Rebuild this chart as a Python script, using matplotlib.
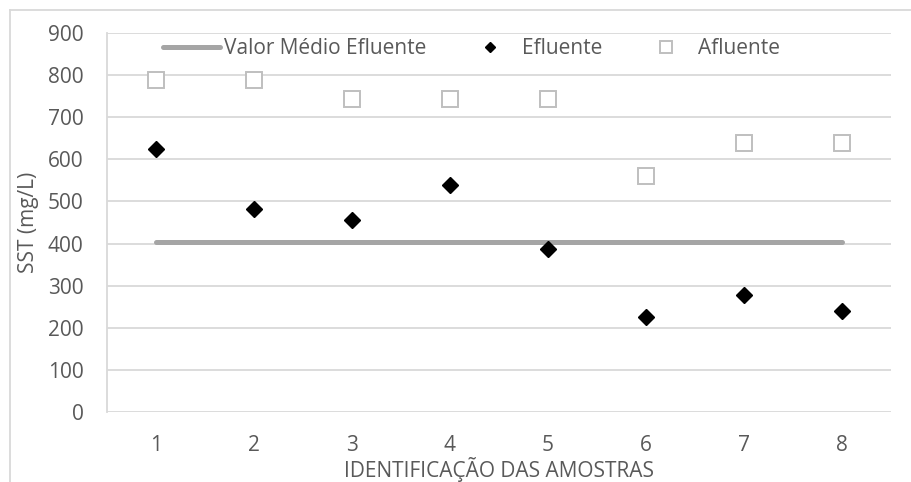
#!/usr/bin/env python3
"""
SST nas amostras: afluente, efluente e valor medio do efluente
"""

import matplotlib.pyplot as plt
import numpy as np

amostras = [1, 2, 3, 4, 5, 6, 7, 8]
afluente = [788, 788, 743, 743, 743, 560, 638, 638]
efluente = [624, 483, 455, 538, 386, 226, 279, 240]
media_efluente = np.mean(efluente)

cinza_texto = '#595959'
cinza_grade = '#d9d9d9'
fs = 15

plt.rcParams['font.family'] = ['Open Sans', 'DejaVu Sans']
plt.rcParams['font.size'] = fs

fig = plt.figure(figsize=(9.12, 4.82), dpi=100)
ax = fig.add_axes([107 / 912, 70 / 482, 784 / 912, 379 / 482])

# borda da area do grafico (so a esquerda e o topo aparecem)
bx, by = 10 / 912, 1 - 9.5 / 482
fig.add_artist(plt.Line2D([bx, bx], [0, by], color=cinza_grade, lw=1.3))
fig.add_artist(plt.Line2D([bx, 1], [by, by], color=cinza_grade, lw=1.3))

ax.plot([amostras[0], amostras[-1]], [media_efluente, media_efluente],
        color='#a5a5a5', lw=3.6, solid_capstyle='round', label='Valor Médio Efluente', zorder=3)
ax.plot(amostras, efluente, linestyle='none', marker='D', markersize=7.8,
        color='black', label='Efluente', zorder=4)
ax.plot(amostras, afluente, linestyle='none', marker='s', markersize=12,
        markerfacecolor='white', markeredgecolor='#bfbfbf', markeredgewidth=1.4,
        label='Afluente', zorder=4)

ax.set_xlim(0.5, 8.5)
ax.set_ylim(0, 900)
ax.set_yticks(np.arange(0, 901, 100))
ax.set_xticks(amostras)
ax.grid(axis='y', color=cinza_grade, lw=1.3)
ax.set_axisbelow(True)

for side in ['top', 'right', 'bottom']:
    ax.spines[side].set_visible(False)
ax.spines['left'].set_color(cinza_grade)
ax.spines['left'].set_linewidth(1.3)
ax.tick_params(length=0, colors=cinza_texto, labelsize=fs)
ax.tick_params(axis='y', pad=17)
ax.tick_params(axis='x', pad=16.5)

ax.set_ylabel('SST (mg/L)', color=cinza_texto, fontsize=fs, labelpad=6)
ax.set_xlabel('IDENTIFICAÇÃO DAS AMOSTRAS', color=cinza_texto, fontsize=fs, labelpad=0.5)

leg = ax.legend(loc='center left', bbox_to_anchor=(56 / 784, 0.958), ncol=3, frameon=False,
                borderaxespad=0, borderpad=0, handlelength=2.74, handletextpad=0.2,
                columnspacing=1.65, fontsize=fs)
for t in leg.get_texts():
    t.set_color(cinza_texto)
leg.legend_handles[1].set_markersize(5)
leg.legend_handles[2].set_markersize(9)

fig.savefig('out.png', dpi=100)
